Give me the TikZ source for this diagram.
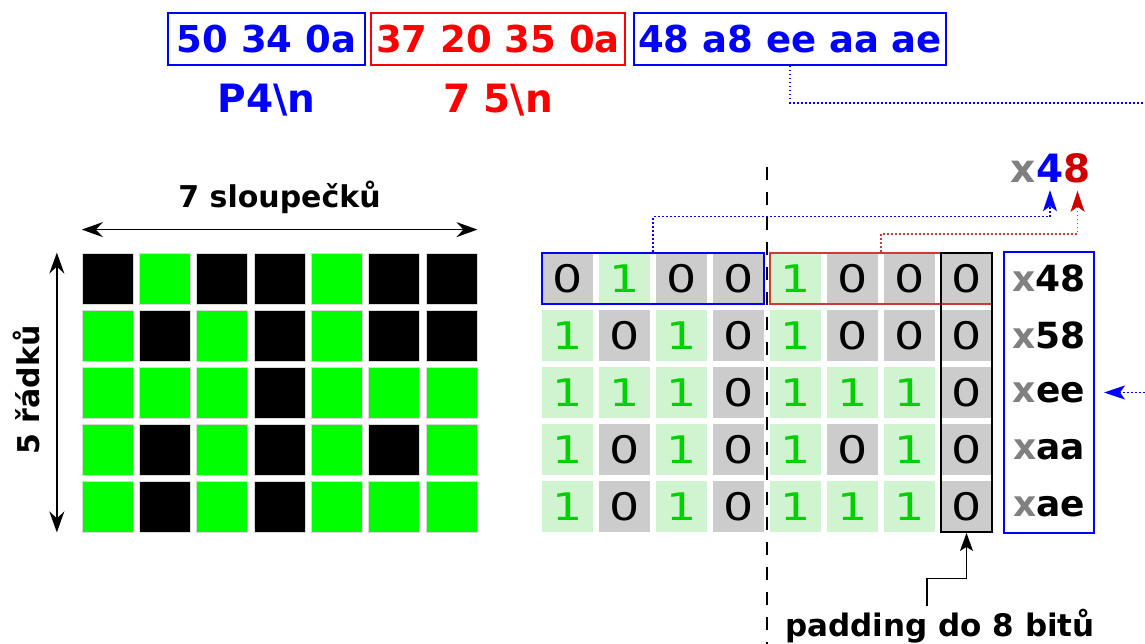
\documentclass[tikz,border=0pt]{standalone}
\usepackage{fontspec}
\setmainfont{DejaVu Sans}
\newfontfamily\bitfont[FakeStretch=1.25]{DejaVu Sans}
\usepackage{tikz}
\usetikzlibrary{arrows.meta, positioning, fit, calc}
\definecolor{pixgreen}{RGB}{0,255,0}
\definecolor{bitgreen}{RGB}{0,208,0}
\definecolor{cellon}{RGB}{208,244,208}
\definecolor{celloff}{RGB}{204,204,204}
\definecolor{hexblue}{RGB}{0,0,255}
\definecolor{hexred}{RGB}{255,0,0}
\definecolor{bytered}{RGB}{212,55,55}
\definecolor{tipred}{RGB}{204,0,0}
\definecolor{xgray}{RGB}{128,128,128}
\colorlet{pix0}{black}
\colorlet{pix1}{pixgreen}
\colorlet{cell0}{celloff}
\colorlet{cell1}{cellon}
\colorlet{digit0}{black}
\colorlet{digit1}{bitgreen}

\begin{document}
\begin{tikzpicture}[
    x=1pt, y=-1pt,
    hexbox/.style={draw, line width=2pt, minimum height=52pt, inner sep=0pt, font=\fontsize{37}{40}\selectfont\bfseries},
    asciilbl/.style={anchor=base, inner sep=0pt, font=\fontsize{39}{42}\selectfont\bfseries},
    dimlbl/.style={inner sep=0pt, font=\fontsize{30}{34}\selectfont\bfseries},
    dimtip/.tip={Stealth[length=21pt, width=15pt, inset=7pt]},
    dimarrow/.style={line width=1.5pt, dimtip-dimtip},
    pixel/.style={minimum size=51pt, inner sep=0pt, draw=gray!30, line width=0.8pt},
    bitcell/.style={minimum size=51pt, inner sep=0pt, font=\bitfont\fontsize{38}{40}\selectfont},
    hexlbl/.style={inner sep=0pt, font=\fontsize{36}{40}\selectfont\bfseries},
    toplbl/.style={inner sep=0pt, font=\fontsize{39}{42}\selectfont\bfseries},
    bluedot/.style={draw=hexblue, line width=1.5pt, dash pattern=on 1.5pt off 2.5pt, -{Stealth[length=21pt, width=14pt, inset=5pt]}, shorten >=7pt},
    reddot/.style={draw=bytered, line width=1.5pt, dash pattern=on 1.5pt off 2.5pt, -{Stealth[length=21pt, width=14pt, inset=5pt, color=tipred]}, shorten >=7pt}
  ]
  \useasboundingbox (0,0) rectangle (1145,644);

  % Bytes of the file
  \node[hexbox, draw=hexblue, text=hexblue, minimum width=197pt] (hexA) at (266.5,39) {50 34 0a};
  \node[hexbox, draw=hexred, text=hexred, minimum width=254pt, right=4pt of hexA] (hexB) {37 20 35 0a};
  \node[hexbox, draw=hexblue, text=hexblue, minimum width=312pt, right=7pt of hexB] (hexC) {48 a8 ee aa ae};
  \node[asciilbl, text=hexblue] (asciiA) at ($(hexA.south)+(0,47)$) {P4\textbackslash n};
  \node[asciilbl, text=hexred] (asciiB) at ($(hexB.south)+(0,47)$) {7 5\textbackslash n};

  % Image pixels
  \foreach \row [count=\r] in {{0,1,0,0,1,0,0},{1,0,1,0,1,0,0},{1,1,1,0,1,1,1},{1,0,1,0,1,0,1},{1,0,1,0,1,1,1}}
    \foreach \b [count=\c] in \row
      \node[pixel, fill=pix\b] (px-\r-\c) at ({107.75+57.3*(\c-1)}, {278.5+57*(\r-1)}) {};
  \draw[dimarrow] ([yshift=23pt]px-1-1.north west) -- ([yshift=23pt]px-1-7.north east);
  \node[dimlbl, anchor=base] (colslbl) at (279.5,208) {7 sloupečků};
  \draw[dimarrow] ([xshift=-25pt]px-1-1.north west) -- ([xshift=-25pt]px-5-1.south west);
  \node[dimlbl, rotate=90, anchor=base] (rowslbl) at (39,390) {5 řádků};

  % Bits of each row
  \foreach \row [count=\r] in {{0,1,0,0,1,0,0,0},{1,0,1,0,1,0,0,0},{1,1,1,0,1,1,1,0},{1,0,1,0,1,0,1,0},{1,0,1,0,1,1,1,0}}
    \foreach \b [count=\c] in \row
      \node[bitcell, fill=cell\b, text=digit\b] (bit-\r-\c) at ({567.5+57*(\c-1)}, {278.5+57*(\r-1)}) {\b};
  \node[draw=hexblue, line width=2.5pt, inner sep=0pt, fit=(bit-1-1)(bit-1-4)] (grpA) {};
  \node[draw=bytered, line width=2pt, inner sep=0pt, fit=(bit-1-5)(bit-1-8)] (grpB) {};
  \node[draw=black, line width=1.5pt, inner sep=0pt, fit=(bit-1-8)(bit-5-8)] (padcol) {};

  % Row bytes
  \node[draw=hexblue, line width=2pt, minimum width=90pt, minimum height=281pt, inner sep=0pt] (hexcol) at (1049,392.5) {};
  \foreach \h [count=\r] in {48,58,ee,aa,ae}
    \node[hexlbl] (hx-\r) at (1049, {278.5+57*(\r-1)}) {\textcolor{xgray}{x}\h};

  % Byte boundary
  \coordinate (divtop) at (767,167);
  \coordinate (divbot) at (767,650);
  \draw[line width=2pt, dash pattern=on 13pt off 12pt] (divtop) -- (divbot);

  % First byte
  \node[toplbl, anchor=base, text=hexblue] (tfour) at (1050,183) {4};
  \node[toplbl, anchor=base east, text=xgray] (tx) at (tfour.base west) {x};
  \node[toplbl, anchor=base west, text=tipred] (teight) at (tfour.base east) {8};
  \draw[bluedot] (grpA.north) -- ++(0,-35) -| (tfour.south);
  \draw[reddot] (grpB.north) -- ++(0,-18) -| (teight.south);

  \coordinate (offright) at (1170,103);
  \draw[bluedot, shorten >=9pt] (hexC.south) |- (offright) |- (hexcol.east |- hx-3);

  % Padding
  \node[anchor=base, inner sep=2pt, font=\fontsize{31}{34}\selectfont\bfseries] (padlbl) at (940,636) {padding do 8 bitů};
  \draw[line width=1.5pt, -{Stealth[length=18pt, width=13pt, inset=4pt]}] ([xshift=-13pt]padlbl.north) -- ++(0,-28) -| (padcol.south);
\end{tikzpicture}
\end{document}
